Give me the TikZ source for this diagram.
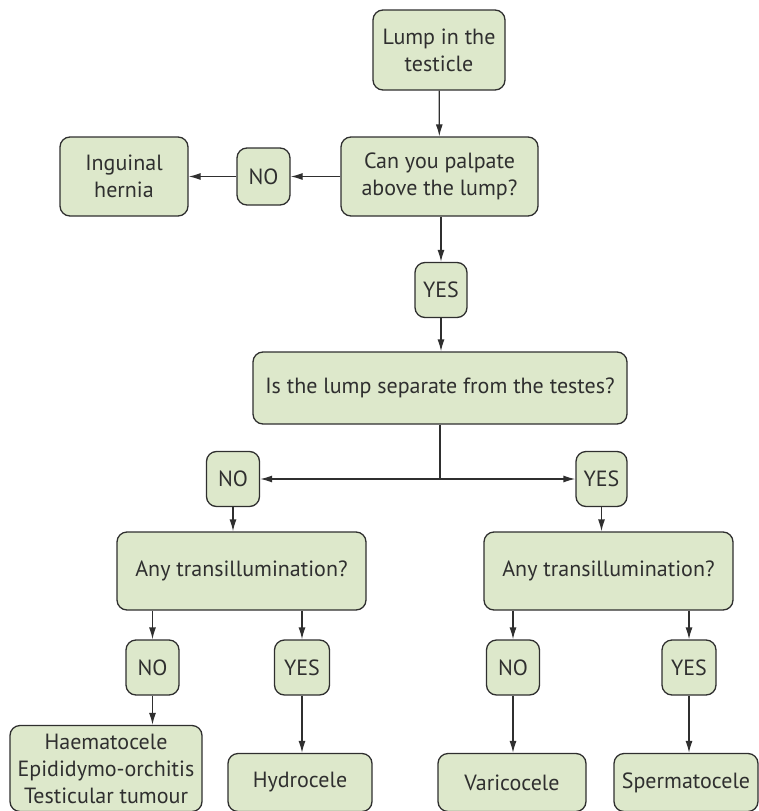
\documentclass[tikz,border=0pt]{standalone}
\usepackage{fontspec}
\setmainfont{PT Sans}
\usetikzlibrary{arrows.meta}
\definecolor{boxfill}{HTML}{DDE8CB}
\definecolor{boxline}{HTML}{2F2F2F}
\begin{document}
\begin{tikzpicture}[x=1pt,y=-1pt,
  box/.style={draw=boxline,fill=boxfill,line width=1.3pt,rounded corners=10pt,
    inner sep=0pt,align=center,font=\fontsize{22}{27}\selectfont,text=boxline},
  arr/.style={draw=boxline,line width=1.3pt,-{Latex[length=12pt,width=7pt]}},
  ln/.style={draw=boxline,line width=1.3pt}]
\useasboundingbox (0,0) rectangle (759,811);
% question boxes
\node[box,minimum width=132pt,minimum height=80pt] (lump) at (439,50) {Lump in the\\testicle};
\node[box,minimum width=197pt,minimum height=79pt] (palp) at (439.5,176.5) {Can you palpate\\above the lump?};
\node[box,minimum width=128pt,minimum height=79pt] (hern) at (124,176.5) {Inguinal\\hernia};
\node[box,minimum width=53pt,minimum height=57pt] (no1) at (263.5,176.5) {NO};
\node[box,minimum width=52pt,minimum height=55pt] (yes1) at (441,290) {YES};
\node[box,minimum width=374pt,minimum height=72pt] (sep) at (440,388) {Is the lump separate from the testes?};
\node[box,minimum width=53pt,minimum height=55pt] (no2) at (233,479) {NO};
\node[box,minimum width=51pt,minimum height=55pt] (yes2) at (601.5,479) {YES};
\node[box,minimum width=249pt,minimum height=78pt] (tl) at (241.5,571) {Any transillumination?};
\node[box,minimum width=249pt,minimum height=78pt] (tr) at (608.5,571) {Any transillumination?};
% answer boxes
\node[box,minimum width=53pt,minimum height=55pt] (no3) at (152.5,667.5) {NO};
\node[box,minimum width=55pt,minimum height=55pt] (yes3) at (302,667.5) {YES};
\node[box,minimum width=53pt,minimum height=55pt] (no4) at (513,667.5) {NO};
\node[box,minimum width=54pt,minimum height=55pt] (yes4) at (689,667.5) {YES};
% diagnoses
\node[box,minimum width=192pt,minimum height=86pt] (haem) at (106,768.5) {Haematocele\\Epididymo-orchitis\\Testicular tumour};
\node[box,minimum width=144pt,minimum height=58pt] (hydro) at (300,782.5) {Hydrocele};
\node[box,minimum width=148pt,minimum height=58pt] (vari) at (512,782.5) {Varicocele};
\node[box,minimum width=144pt,minimum height=58pt] (sperm) at (686,782.5) {Spermatocele};
% connectors
\draw[arr] (lump) -- (palp);
\draw[arr] (palp) -- (no1);
\draw[arr] (no1) -- (hern);
\draw[arr] (palp.south -| yes1) -- (yes1);
\draw[arr] (yes1) -- (sep.north -| yes1);
\coordinate (split) at (sep.south |- no2);
\draw[ln] (sep.south) -- (split);
\draw[arr] (split) -- (no2);
\draw[arr] (split) -- (yes2);
\draw[arr] (no2) -- (tl.north -| no2);
\draw[arr] (yes2) -- (tr.north -| yes2);
\draw[arr] (tl.south -| no3) -- (no3);
\draw[arr] (tl.south -| yes3) -- (yes3);
\draw[arr] (tr.south -| no4) -- (no4);
\draw[arr] (tr.south -| yes4) -- (yes4);
\draw[arr] (no3) -- (haem.north -| no3);
\draw[arr] (yes3) -- (hydro.north -| yes3);
\draw[arr] (no4) -- (vari.north -| no4);
\draw[arr] (yes4) -- (sperm.north -| yes4);
\end{tikzpicture}
\end{document}
